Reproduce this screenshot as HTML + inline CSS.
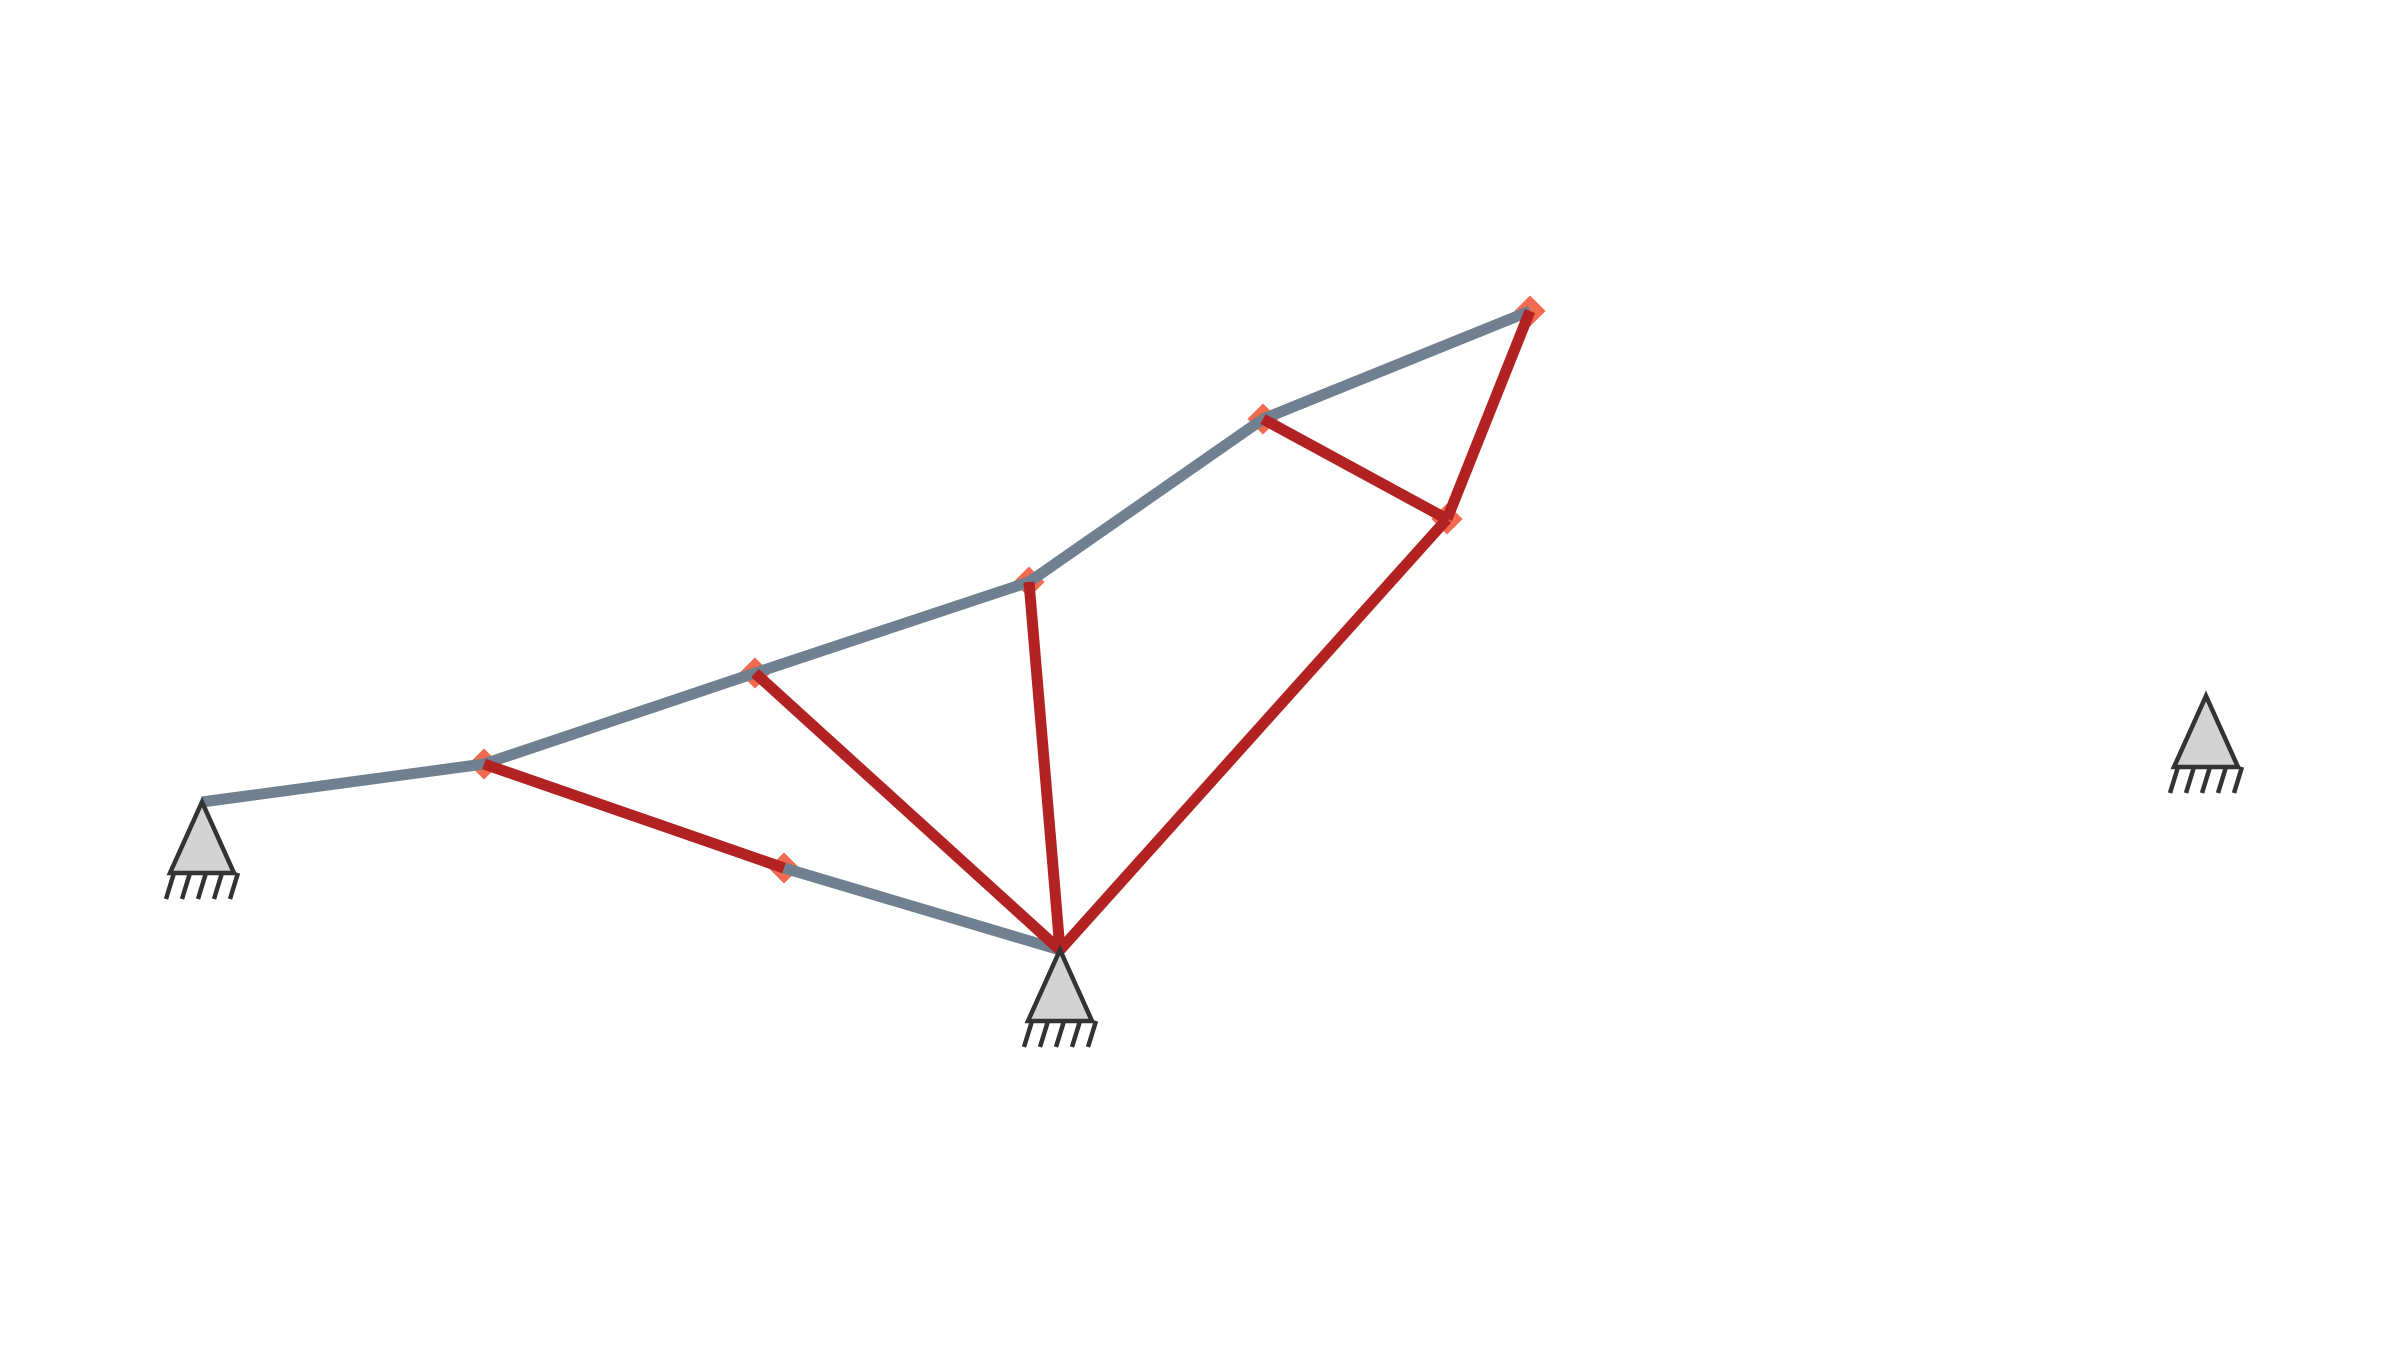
<!DOCTYPE html>
<html><head><meta charset="utf-8"><style>
html,body{margin:0;padding:0;background:#fff;}
svg{display:block;}
</style></head><body>
<svg id="chart" width="2400" height="1350" viewBox="0 0 2400 1350" xmlns="http://www.w3.org/2000/svg">
<g id="members"></g>
<g id="supports"></g>
</svg>
<script>
const nodeNames = ["A","B","C","D","E","F","G","H","S","R"];
const nodeX = [202,484,755,1029,1263,1530,1447,784,1060,2206];
const nodeY = [802,764,673,582,419,311,519,868,950,696];
const memberFrom = ["A","B","C","D","E","H","B","C","D","S","E","G"];
const memberTo   = ["B","C","D","E","F","S","H","S","S","G","G","F"];
const memberType = ["gray","gray","gray","gray","gray","gray","red","red","red","red","red","red"];
const jointNodes = ["B","C","D","E","F","G","H"];
const supportNodes = ["A","S","R"];

const NS="http://www.w3.org/2000/svg";
const gm=document.getElementById('members');
const gs=document.getElementById('supports');
function px(n){return nodeX[nodeNames.indexOf(n)];}
function py(n){return nodeY[nodeNames.indexOf(n)];}
const colors={gray:"#708090",red:"#b22222"};

jointNodes.forEach(n=>{
  const r=document.createElementNS(NS,'rect');
  r.setAttribute('x',px(n)-11);r.setAttribute('y',py(n)-11);
  r.setAttribute('width',22);r.setAttribute('height',22);
  r.setAttribute('fill','#f26a4f');
  r.setAttribute('transform','rotate(45 '+px(n)+' '+py(n)+')');
  
  
  gm.appendChild(r);
});
memberFrom.forEach((f,i)=>{
  const t=memberTo[i];
  const l=document.createElementNS(NS,'line');
  l.setAttribute('x1',px(f));l.setAttribute('y1',py(f));
  l.setAttribute('x2',px(t));l.setAttribute('y2',py(t));
  l.setAttribute('stroke',colors[memberType[i]]);
  l.setAttribute('stroke-width',11);
  
  
  gm.appendChild(l);
});
supportNodes.forEach(n=>{
  const x=px(n),y=py(n);
  const g=document.createElementNS(NS,'g');
  
  
  const p=document.createElementNS(NS,'polygon');
  p.setAttribute('points',(x)+','+(y)+' '+(x-32)+','+(y+71)+' '+(x+32)+','+(y+71));
  p.setAttribute('fill','#d3d3d3');p.setAttribute('stroke','#333');p.setAttribute('stroke-width',4.5);
  g.appendChild(p);
  for(let k=0;k<5;k++){
    const hx=x-28+k*16;
    const h=document.createElementNS(NS,'line');
    h.setAttribute('x1',hx);h.setAttribute('y1',y+71);
    h.setAttribute('x2',hx-8);h.setAttribute('y2',y+97);
    h.setAttribute('stroke','#333');h.setAttribute('stroke-width',4.5);
    g.appendChild(h);
  }
  gs.appendChild(g);
});
</script>
</body></html>
